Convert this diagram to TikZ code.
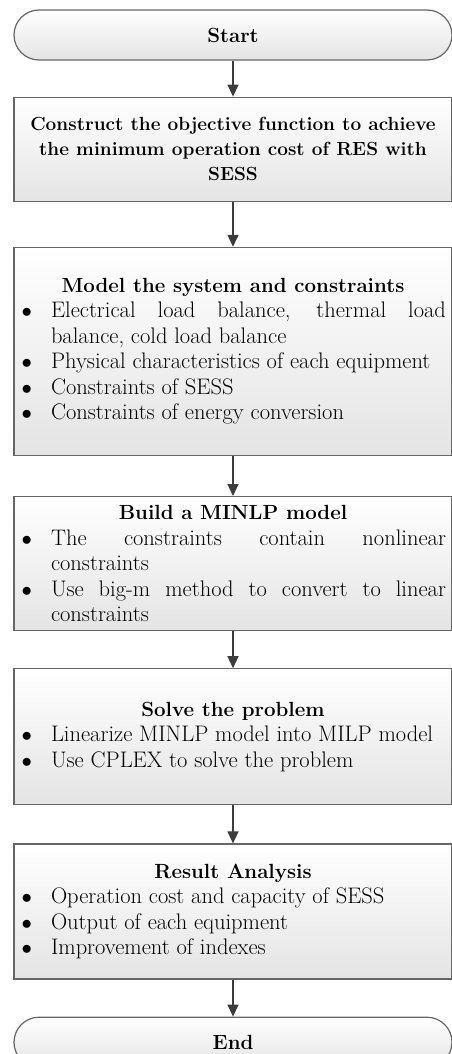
\documentclass[tikz,border=0pt]{standalone}
\usepackage{fontspec}
\usepackage{enumitem}
\usetikzlibrary{positioning,arrows.meta}
\definecolor{flowLine}{HTML}{666666}
\definecolor{flowArrow}{HTML}{3C3C3C}
\definecolor{flowFillDk}{HTML}{E4E4E4}
\newcommand{\flowfont}{\fontsize{22.5}{25.5}\selectfont}
\newcommand{\headfont}{\fontsize{20.5}{25.5}\selectfont\bfseries}
\newcommand{\boxhead}[1]{\centerline{\headfont #1}}
\setlist[itemize]{nosep, label=$\bullet$, leftmargin=31pt,
                  labelwidth=12pt, labelsep=19pt}
\tikzset{
  termnode/.style={draw=flowLine, line width=1.2pt, rounded corners=25pt,
                   top color=white, bottom color=flowFillDk, minimum width=438pt,
                   minimum height=50pt, font=\headfont},
  procnode/.style={draw=flowLine, line width=1.2pt, top color=white,
                   bottom color=flowFillDk, minimum width=438pt, font=\flowfont},
  listnode/.style={procnode, text width=426pt, inner sep=0pt, align=justify},
  flowarrow/.style={-{Triangle[length=12pt, width=11pt]}, line width=1.3pt,
                    flowArrow},
}

\begin{document}
\begin{tikzpicture}[x=1pt, y=-1pt]
\useasboundingbox (0,0) rectangle (452,1054);
\def\xMid{233}  % centre line of the chart
\def\yStart{35} % y-position of Start

%% Steps
\node[termnode] (start) at (\xMid, \yStart) {Start};
\node[procnode, below=36pt of start, minimum height=104pt, align=center,
      font=\fontsize{19}{25}\selectfont\bfseries] (objfun)
  {Construct the objective function to achieve\\
   the minimum operation cost of RES with\\ SESS};
\node[listnode, below=45pt of objfun, minimum height=208pt] (model) {%
  \boxhead{Model the system and constraints}
  \begin{itemize}
    \item Electrical load balance, thermal load\linebreak
          balance, cold load balance
    \item Physical characteristics of each equipment
    \item Constraints of SESS
    \item Constraints of energy conversion
  \end{itemize}};
\node[listnode, below=40pt of model, minimum height=134pt] (minlp) {%
  \boxhead{Build a MINLP model}
  \begin{itemize}
    \item The constraints contain nonlinear\linebreak constraints
    \item Use big-m method to convert to linear\linebreak constraints
  \end{itemize}};
\node[listnode, below=37pt of minlp, minimum height=136pt] (solve) {%
  \boxhead{Solve the problem}
  \begin{itemize}
    \item Linearize MINLP model into MILP model
    \item Use CPLEX to solve the problem
  \end{itemize}};
\node[listnode, below=38pt of solve, minimum height=135pt] (result) {%
  \boxhead{Result Analysis}
  \begin{itemize}
    \item Operation cost and capacity of SESS
    \item Output of each equipment
    \item Improvement of indexes
  \end{itemize}};
\node[termnode, below=37pt of result] (end) {End};

%% Arrows
\draw[flowarrow] (start) -- (objfun);
\draw[flowarrow] (objfun) -- (model);
\draw[flowarrow] (model) -- (minlp);
\draw[flowarrow] (minlp) -- (solve);
\draw[flowarrow] (solve) -- (result);
\draw[flowarrow] (result) -- (end);
\end{tikzpicture}
\end{document}
